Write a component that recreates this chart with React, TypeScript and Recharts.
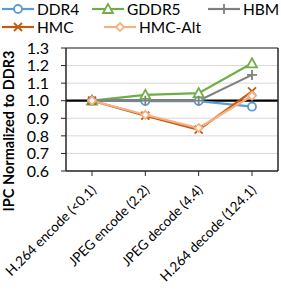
import React from 'react';
import { LineChart, Line, XAxis, YAxis, CartesianGrid, ReferenceLine } from 'recharts';

const categories = ['H.264 encode (<0.1)', 'JPEG encode (2.2)', 'JPEG decode (4.4)', 'H.264 decode (124.1)'];
const ddr4 = [1.0, 0.998, 0.998, 0.966];
const gddr5 = [1.0, 1.033, 1.043, 1.213];
const hbm = [1.0, 1.0, 1.0, 1.147];
const hmc = [1.0, 0.915, 0.835, 1.053];
const hmcAlt = [1.0, 0.92, 0.845, 1.028];
const yTicks = [0.6, 0.7, 0.8, 0.9, 1.0, 1.1, 1.2, 1.3];

const data = categories.map((name, i) => ({
  name,
  ddr4: ddr4[i],
  gddr5: gddr5[i],
  hbm: hbm[i],
  hmc: hmc[i],
  hmcAlt: hmcAlt[i],
}));

const FONT = 'Lato, "Open Sans", sans-serif';

type Shape = 'circle' | 'triangle' | 'plus' | 'cross' | 'diamond';

const series: { key: string; name: string; color: string; shape: Shape }[] = [
  { key: 'ddr4', name: 'DDR4', color: '#5B9BD5', shape: 'circle' },
  { key: 'gddr5', name: 'GDDR5', color: '#70AD47', shape: 'triangle' },
  { key: 'hbm', name: 'HBM', color: '#808080', shape: 'plus' },
  { key: 'hmc', name: 'HMC', color: '#C55A11', shape: 'cross' },
  { key: 'hmcAlt', name: 'HMC-Alt', color: '#F4B183', shape: 'diamond' },
];

function Marker({ cx, cy, color, shape }: { cx: number; cy: number; color: string; shape: Shape }) {
  const s = 4;
  switch (shape) {
    case 'circle':
      return <circle cx={cx} cy={cy} r={s} fill="#fff" stroke={color} strokeWidth={1.8} />;
    case 'triangle':
      return (
        <polygon
          points={`${cx},${cy - s - 1} ${cx - s - 1},${cy + s} ${cx + s + 1},${cy + s}`}
          fill="#fff"
          stroke={color}
          strokeWidth={1.8}
        />
      );
    case 'plus':
      return (
        <path d={`M${cx - s - 1},${cy}H${cx + s + 1}M${cx},${cy - s - 1}V${cy + s + 1}`} stroke={color} strokeWidth={1.8} />
      );
    case 'cross':
      return (
        <path d={`M${cx - s},${cy - s}L${cx + s},${cy + s}M${cx - s},${cy + s}L${cx + s},${cy - s}`} stroke={color} strokeWidth={1.8} />
      );
    default:
      return (
        <polygon
          points={`${cx},${cy - s} ${cx + s},${cy} ${cx},${cy + s} ${cx - s},${cy}`}
          fill="#fff"
          stroke={color}
          strokeWidth={1.8}
        />
      );
  }
}

const XTick = (props: any) => {
  const { x, y, payload } = props;
  return (
    <g transform={`translate(${x + 5},${y + 13})`}>
      <text x={0} y={0} textAnchor="end" transform="rotate(-45)" fontSize={13.5} fontFamily={FONT} fill="#000">
        {payload.value}
      </text>
    </g>
  );
};

const legendPos = [
  { x: 2, y: 9 },
  { x: 92, y: 9 },
  { x: 208, y: 9 },
  { x: 2, y: 27 },
  { x: 104, y: 27 },
];

function LegendBox() {
  return (
    <svg width={281} height={40} style={{ position: 'absolute', left: 0, top: 0 }}>
      {series.map((s, i) => {
        const p = legendPos[i];
        return (
          <g key={s.key}>
            <line x1={p.x} x2={p.x + 32} y1={p.y} y2={p.y} stroke={s.color} strokeWidth={2.2} />
            <Marker cx={p.x + 16} cy={p.y} color={s.color} shape={s.shape} />
            <text x={p.x + 35} y={p.y + 5.5} fontSize={15.5} fontFamily={FONT} fill="#000">
              {s.name}
            </text>
          </g>
        );
      })}
    </svg>
  );
}

export default function App() {
  return (
    <div style={{ position: 'absolute', left: 0, top: 0, width: 281, height: 299, background: '#fff' }}>
      <LineChart width={281} height={299} data={data} margin={{ top: 48, right: 0, bottom: 0, left: 0 }}>
        <CartesianGrid vertical={false} stroke="#D9D9D9" strokeWidth={1} />
        <XAxis
          dataKey="name"
          interval={0}
          padding={{ left: 26, right: 26 }}
          tick={<XTick />}
          tickSize={5}
          axisLine={{ stroke: '#262626', strokeWidth: 1.5 }}
          tickLine={{ stroke: '#262626' }}
          height={128}
        />
        <YAxis
          domain={[0.6, 1.3]}
          ticks={yTicks}
          interval={0}
          width={66}
          tickFormatter={(v: number) => v.toFixed(1)}
          tick={{ fontSize: 16, fontFamily: FONT, fill: '#000' }}
          tickSize={5}
          tickMargin={12}
          axisLine={{ stroke: '#262626', strokeWidth: 1.5 }}
          tickLine={{ stroke: '#262626' }}
          label={{
            content: () => (
              <text
                x={0}
                y={0}
                transform="translate(14,131) rotate(-90)"
                textAnchor="middle"
                fontSize={14.5}
                fontWeight="bold"
                fontFamily={FONT}
                fill="#000"
              >
                IPC Normalized to DDR3
              </text>
            ),
          }}
        />
        <YAxis yAxisId="r" orientation="right" width={3} tick={false} tickLine={false} axisLine={{ stroke: '#262626', strokeWidth: 1.5 }} />
        <ReferenceLine y={1.3} stroke="#262626" strokeWidth={1.2} />
        <ReferenceLine y={1.0} stroke="#000" strokeWidth={2.2} />
        {series.map((s) => (
          <Line
            key={s.key}
            dataKey={s.key}
            name={s.name}
            stroke={s.color}
            strokeWidth={2.2}
            isAnimationActive={false}
            dot={(p: any) => <Marker key={`${s.key}-${p.index}`} cx={p.cx} cy={p.cy} color={s.color} shape={s.shape} />}
          />
        ))}
      </LineChart>
      <LegendBox />
    </div>
  );
}
